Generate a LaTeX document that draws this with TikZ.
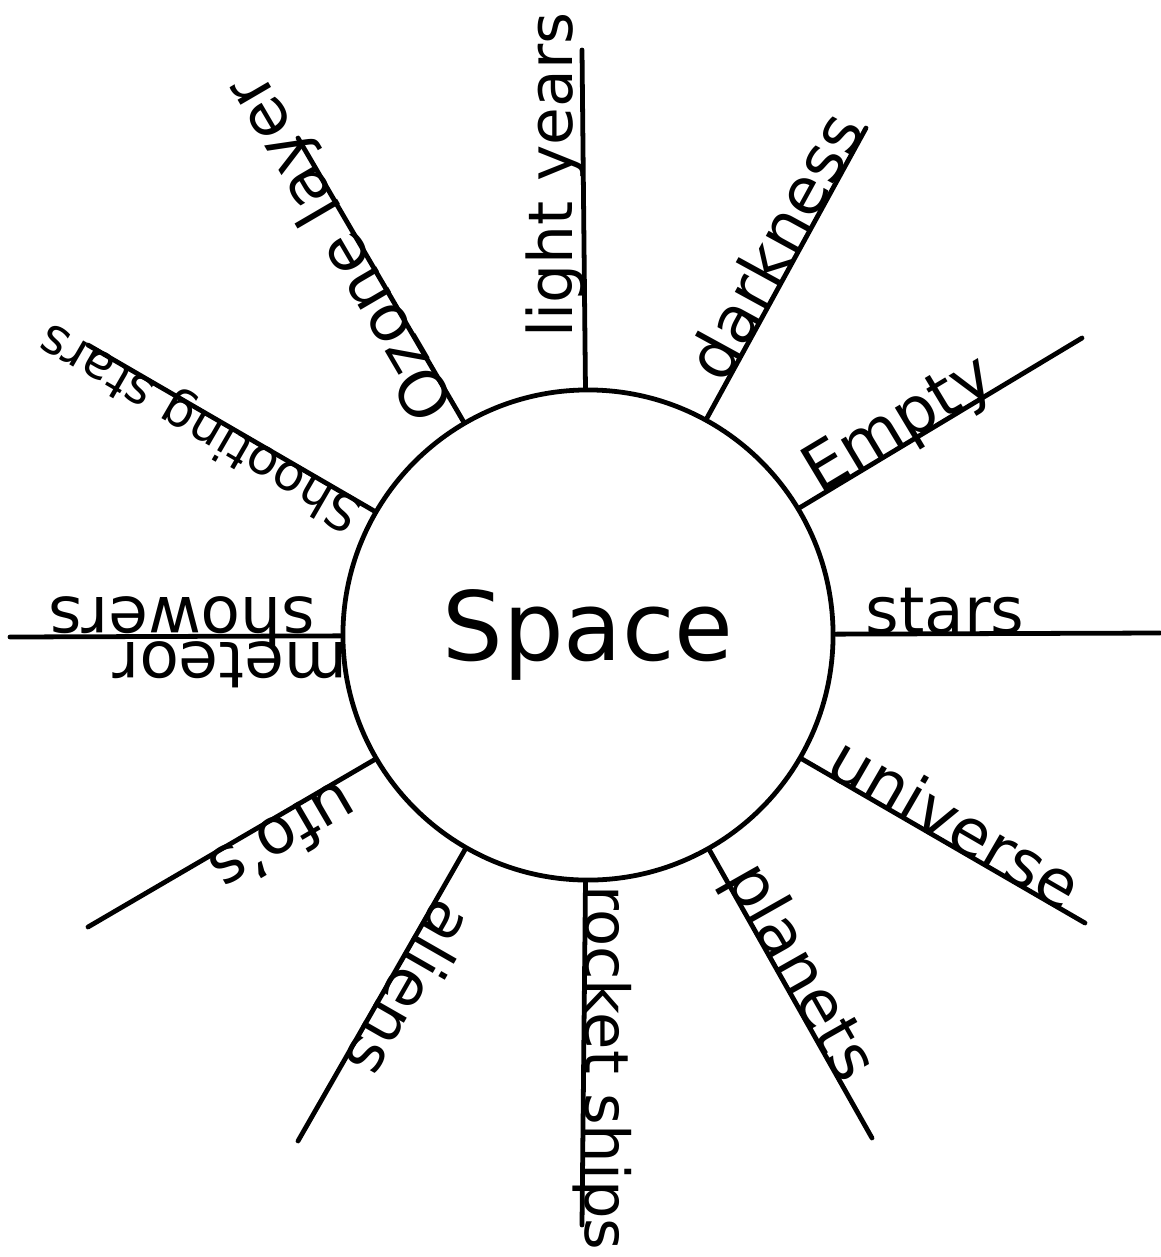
\documentclass[tikz,border=0pt]{standalone}
\usepackage{fontspec}
\setmainfont{DejaVu Sans}
\newcommand{\hand}{\fontsize{46}{50}\selectfont}
\tikzstyle{hub}=[shape=circle, minimum size=12.25cm, inner sep=0, draw, line width=3.4pt, font=\fontsize{68}{70}\selectfont]
\tikzstyle{lbl}=[font=\hand, inner sep=0, anchor=base]
\tikzstyle{spoke}=[line width=3.4pt, line cap=round]

\begin{document}
\begin{tikzpicture}[x=.025cm, y=-.025cm]
\useasboundingbox (0,0) rectangle (1160,1257);
%\draw[help lines,step=50] (0,0) grid (1160,1257);
\node at (588,635)[hub](space){Space};
\coordinate (ly) at (582,50);
\coordinate (dk) at (866,128);
\coordinate (em) at (1082,338);
\coordinate (st) at (1160,633);
\coordinate (un) at (1085,923);
\coordinate (pl) at (872,1138);
\coordinate (rs) at (582,1225);
\coordinate (al) at (298,1141);
\coordinate (uf) at (88,927);
\coordinate (ms) at (10,637);
\coordinate (ss) at (88,345);
\coordinate (oz) at (298,138);
\draw[spoke] (space)--(ly);
\draw[spoke] (space)--(dk);
\draw[spoke] (space)--(em);
\draw[spoke] (space)--(st);
\draw[spoke] (space)--(un);
\draw[spoke] (space)--(pl);
\draw[spoke] (space)--(rs);
\draw[spoke] (space)--(al);
\draw[spoke] (space)--(uf);
\draw[spoke] (space)--(ms);
\draw[spoke] (space)--(ss);
\draw[spoke] (space)--(oz);
\node at (572,175)[lbl, rotate=90, scale=.95](lyl){light years};
\node at (795,257)[lbl, rotate=61.3](dkl){darkness};
\node at (909,441)[lbl, rotate=31](eml){Empty};
\node at (945,633)[lbl](stl){stars};
\node at (944,843)[lbl, rotate=-30.1](unl){universe};
\node at (783,982)[lbl, rotate=-60.5](pll){planets};
\node at (585,1068)[lbl, rotate=-90, scale=.94](rsl){rocket ships};
\node at (390,978)[lbl, rotate=-119.8](all){aliens};
\node at (272,818)[lbl, rotate=-149.7](ufl){ufo's};
\node at (230,642)[lbl, rotate=180](mtl){meteor};
\node at (182,597)[lbl, rotate=180](shl){showers};
\node at (208,413)[lbl, rotate=149.9, scale=.78](ssl){Shooting stars};
\node at (359,237)[lbl, rotate=120.3](ozl){Ozone layer};
\end{tikzpicture}
\end{document}
